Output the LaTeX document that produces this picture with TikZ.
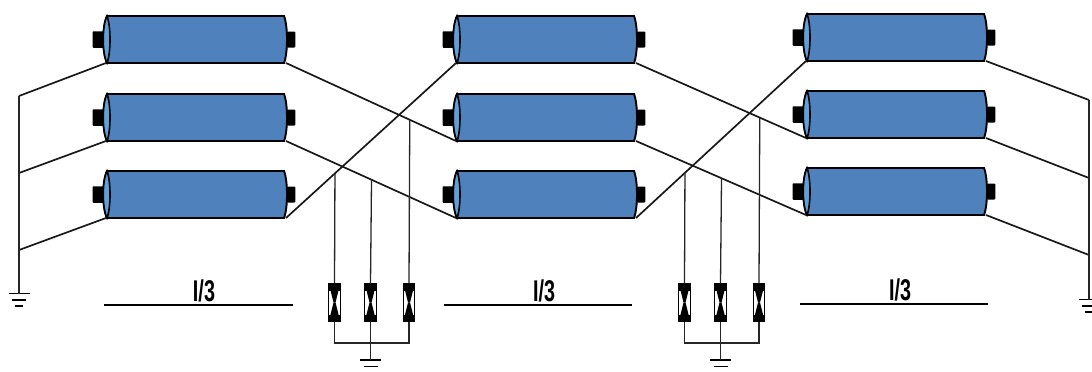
\documentclass[tikz,border=0pt]{standalone}
\usepackage{fontspec}
\setmainfont{Liberation Sans}
\usetikzlibrary{calc}
\definecolor{cylblue}{HTML}{4F81BD}
\definecolor{capblue}{HTML}{5FA0D8}
\tikzset{
  wire/.style={draw=black!90,line width=1.7pt},
  thin wire/.style={draw=black!85,line width=1.3pt},
  cylbody/.style={rectangle,minimum width=180pt,minimum height=47pt,inner sep=0pt,outer sep=0pt},
  cylline/.style={draw=black,line width=1.9pt},
  terminal/.style={rectangle,fill=black,inner sep=0pt,outer sep=0pt,rounded corners=0.8pt},
  switchbox/.style={rectangle,draw=black,line width=1.1pt,fill=white,minimum width=11.5pt,minimum height=38pt,inner sep=0pt,outer sep=0pt},
  lenlabel/.style={inner sep=0pt,font=\fontsize{30pt}{30pt}\selectfont\bfseries},
  lenline/.style={draw=black,line width=1.8pt}
}
% name, centre x, centre y
\newcommand{\cylinderunit}[3]{%
  \node[terminal,minimum width=13pt,minimum height=16.5pt] (#1l) at (#2-97,#3) {};
  \node[terminal,minimum width=8.5pt,minimum height=16pt] (#1r) at (#2+95,#3) {};
  \node[cylbody] (#1) at (#2,#3) {};
  \draw[cylline,fill=cylblue]
    ($(#1.north west)+(1,0)$) -- ($(#1.north east)+(-2,0)$)
    .. controls ($(#1.north east)+(2,10)$) and ($(#1.south east)+(2,-10)$) .. ($(#1.south east)+(-2,0)$)
    -- ($(#1.south west)+(1,0)$)
    .. controls ($(#1.south west)+(-4,-10)$) and ($(#1.north west)+(-4,10)$) .. ($(#1.north west)+(1,0)$) -- cycle;
  \draw[cylline,fill=capblue,line width=1.6pt]
    ($(#1.north west)+(1,0)$)
    .. controls ($(#1.north west)+(5,10)$) and ($(#1.south west)+(5,-10)$) .. ($(#1.south west)+(1,0)$)
    .. controls ($(#1.south west)+(-4,-10)$) and ($(#1.north west)+(-4,10)$) .. ($(#1.north west)+(1,0)$) -- cycle;
}
% name, centre x
\newcommand{\switchunit}[2]{%
  \node[switchbox] (#1) at (#2,302.5) {};
  \fill[black] (#1.north west) -- (#1.north east) -- ($(#1.center)+(1,0)$) -- ($(#1.center)+(-1,0)$) -- cycle;
  \fill[black] (#1.south west) -- (#1.south east) -- ($(#1.center)+(1,0)$) -- ($(#1.center)+(-1,0)$) -- cycle;
  \fill[black] (#1.north west) rectangle ($(#1.north east)+(0,7)$);
  \fill[black] (#1.south west) rectangle ($(#1.south east)+(0,-7)$);
}
% name, x, y
\newcommand{\groundsym}[3]{%
  \coordinate (#1) at (#2,#3);
  \draw[line width=1.8pt] ($(#1)+(-10.5,0)$) -- ($(#1)+(10.5,0)$);
  \draw[line width=1.8pt] ($(#1)+(-7,6.5)$) -- ($(#1)+(7,6.5)$);
  \draw[line width=1.8pt] ($(#1)+(-4,12.5)$) -- ($(#1)+(4,12.5)$);
}
\begin{document}
\begin{tikzpicture}[x=1pt,y=-1pt]
\useasboundingbox (0,0) rectangle (1092,372);
% cylinders
\cylinderunit{a}{196}{39.5}
\cylinderunit{b}{196}{117.5}
\cylinderunit{c}{196}{194.5}
\cylinderunit{d}{546}{39.5}
\cylinderunit{e}{546}{117.5}
\cylinderunit{f}{546}{194.5}
\cylinderunit{g}{896}{37.5}
\cylinderunit{h}{896}{114.5}
\cylinderunit{i}{896}{191.5}
% left star point
\coordinate (lt) at (19,96);
\coordinate (lm) at (19,173);
\coordinate (lb) at (19,250);
\groundsym{gl}{19}{293.5}
\draw[wire] (a.south west) -- (lt);
\draw[wire] (b.south west) -- (lm);
\draw[wire] (c.south west) -- (lb);
\draw[thin wire] (lt) -- (gl);
% right star point
\coordinate (rt) at (1089,100);
\coordinate (rm) at (1089,178);
\coordinate (rb) at (1089,255);
\groundsym{gr}{1089}{299.5}
\draw[wire] (g.south east) -- (rt);
\draw[wire] (h.south east) -- (rm);
\draw[wire] (i.south east) -- (rb);
\draw[thin wire] (rt) -- (gr);
% transpositions
\draw[wire] (a.south east) -- (e.south west);
\draw[wire] (b.south east) -- (f.south west);
\draw[wire] (c.south east) -- (d.south west);
\draw[wire] (d.south east) -- (h.south west);
\draw[wire] (e.south east) -- (i.south west);
\draw[wire] (f.south east) -- (g.south west);
% first switch group
\switchunit{s1}{334.5}
\switchunit{s2}{370.5}
\switchunit{s3}{409}
\coordinate (t1) at ($(c.south east)!0.288!(d.south west)$);
\coordinate (t2) at ($(b.south east)!0.503!(f.south west)$);
\coordinate (t3) at ($(a.south east)!0.728!(e.south west)$);
\draw[thin wire] (t1) -- (s1.north);
\draw[thin wire] (t2) -- (s2.north);
\draw[thin wire] (t3) -- (s3.north);
\coordinate (bus1) at (370.5,343);
\groundsym{g1}{370.5}{360}
\draw[thin wire] (s1.south) -- (s1.south |- bus1) -- (s3.south |- bus1) -- (s3.south);
\draw[thin wire] (s2.south) -- (g1);
% second switch group
\switchunit{s4}{684.5}
\switchunit{s5}{720.5}
\switchunit{s6}{759}
\coordinate (t4) at ($(f.south east)!0.288!(g.south west)$);
\coordinate (t5) at ($(e.south east)!0.503!(i.south west)$);
\coordinate (t6) at ($(d.south east)!0.728!(h.south west)$);
\draw[thin wire] (t4) -- (s4.north);
\draw[thin wire] (t5) -- (s5.north);
\draw[thin wire] (t6) -- (s6.north);
\coordinate (bus2) at (720.5,343);
\groundsym{g2}{720.5}{360}
\draw[thin wire] (s4.south) -- (s4.south |- bus2) -- (s6.south |- bus2) -- (s6.south);
\draw[thin wire] (s5.south) -- (g2);
% length labels
\coordinate (m1a) at (104,305); \coordinate (m1b) at (293,305);
\coordinate (m2a) at (444,305); \coordinate (m2b) at (632,305);
\coordinate (m3a) at (800,304); \coordinate (m3b) at (988,304);
\draw[lenline] (m1a) -- (m1b);
\draw[lenline] (m2a) -- (m2b);
\draw[lenline] (m3a) -- (m3b);
\node[lenlabel] (l1) at (204,291) {\scalebox{0.66}[1]{I/3}};
\node[lenlabel] (l2) at (544,291) {\scalebox{0.66}[1]{I/3}};
\node[lenlabel] (l3) at (900,290) {\scalebox{0.66}[1]{I/3}};
\end{tikzpicture}
\end{document}
